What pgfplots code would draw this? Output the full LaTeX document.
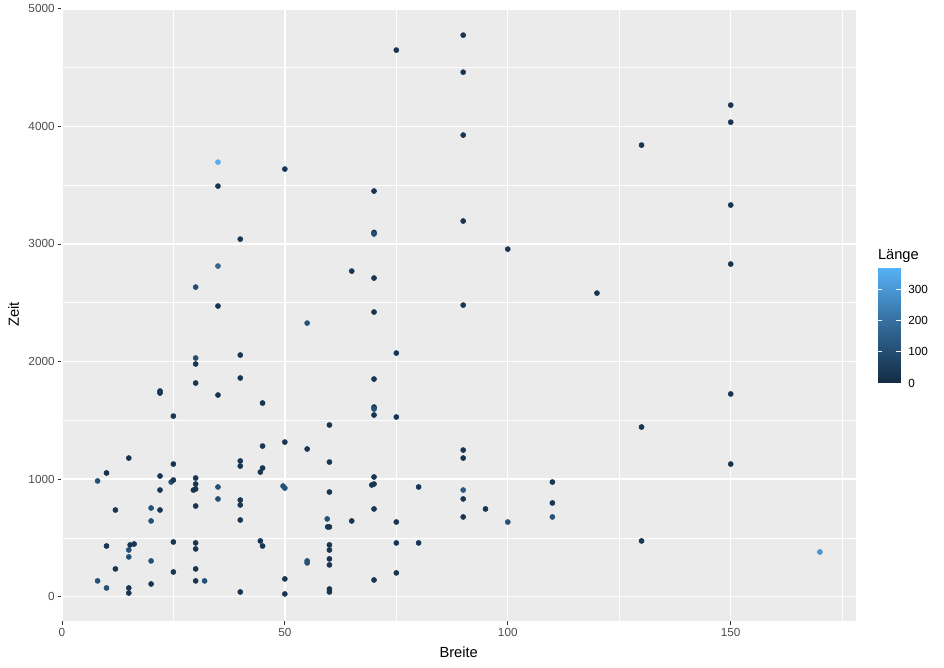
\documentclass[border=0pt]{standalone}
\usepackage{fontspec}
\setmainfont{Liberation Sans}
\usepackage{pgfplots}
\pgfplotsset{compat=1.18}
\usepackage{pgfplotstable}
\definecolor{panelbg}{HTML}{EBEBEB}
\definecolor{grey20}{HTML}{333333}
\definecolor{grey30}{HTML}{4D4D4D}
\pgfplotstableread{
x y c
25 1536 30
15 1179 25
25 1128 30
10 1052 20
22 1026 35
40 1154 30
40 1111 30
8 984 110
24.5 975 110
25 992 30
30 1009 30
30 958 30
29.5 907 30
30 916 25
22 907 30
35 933 110
35 831 110
40 822 30
40 780 30
12 737 30
20 754 110
22 737 30
30 771 30
20 644 110
40 652 30
10 431 30
15.3 440 30
16.2 448 30
15 397 110
15 338 110
25 465 30
30 457 30
30 406 30
20 304 110
12 236 30
25 210 30
30 236 30
8 134 110
10 74 110
15 74 30
15 31 30
20 108 30
30 134 30
32 134 110
40 40 30
45 1647 30
70 1613 30
70 1596 110
70 1545 30
75 1528 30
60 1460 30
45 1281 30
50 1315 30
55 1256 30
60 1145 30
45 1094 30
44.5 1060 30
70 1018 30
69.5 950 30
70 958 30
49.6 941 110
50 924 110
80 933 30
60 890 30
70 746 30
59.5 661 110
59.6 593 30
60 593 30
65 644 30
75 635 30
44.5 474 30
45 431 30
60 440 30
60 397 30
75 457 30
80 457 30
55 304 110
55 287 110
60 321 30
60 270 30
75 202 30
50 151 30
70 142 30
60 65 30
60 40 30
50 23 30
130 1443 30
150 1128 30
90 1247 30
90 1179 30
110 975 30
90 907 140
90 831 30
95 746 30
90 678 30
100 635 110
110 797 30
110 678 120
130 474 30
170 380 300
75 4649 30
35 3696 360
50 3637 30
35 3492 30
70 3450 30
70 3098 30
70 3085 100
40 3041 30
35 2812 170
65 2769 30
70 2710 30
30 2633 100
35 2472 30
70 2421 30
55 2327 120
75 2072 30
30 2030 100
30 1979 30
40 2055 30
30 1817 30
40 1860 30
70 1851 30
22 1749 30
22 1732 30
35 1715 30
90 4776 30
90 4461 30
150 4181 30
150 4036 30
90 3926 30
130 3841 30
150 3331 30
90 3195 30
100 2956 30
150 2829 30
120 2582 30
90 2480 30
150 1724 30
}\pts
\begin{document}
\begin{tikzpicture}
\path[use as bounding box] (0,0) rectangle (708pt,500.25pt);
\begin{axis}[
  at={(46.1pt,34.5pt)}, anchor=south west,
  scale only axis, width=595.9pt, height=459.75pt,
  xmin=-0.1, xmax=178.1, ymin=-207, ymax=5007,
  xtick={0,50,100,150}, ytick={0,1000,2000,3000,4000,5000},
  minor xtick={25,75,125,175}, minor ytick={500,1500,2500,3500,4500},
  grid=both,
  major grid style={white, line width=1.07pt},
  minor grid style={white, line width=0.53pt},
  axis background/.style={fill=panelbg},
  axis line style={draw=none},
  tick align=outside,
  tick pos=left,
  major tick length=2.75pt,
  minor tick length=0pt,
  major tick style={grey20, line width=0.53pt},
  scaled ticks=false,
  /pgf/number format/assume math mode=true,
  /pgf/number format/1000 sep={},
  xticklabel style={font=\fontsize{8.8}{10}\selectfont, text=grey30, inner sep=0pt, yshift=-2.2pt},
  yticklabel style={font=\fontsize{8.8}{10}\selectfont, text=grey30, inner sep=0pt, xshift=-2.2pt},
  xlabel={Breite},
  ylabel={Zeit},
  every axis x label/.style={at={([yshift=-27pt]axis description cs:0.5,0)}, anchor=base, font=\fontsize{11}{13}\selectfont, inner sep=0pt},
  every axis y label/.style={at={([xshift=-31.9pt]axis description cs:0,0.5)}, rotate=90, anchor=base, font=\fontsize{11}{13}\selectfont, inner sep=0pt},
  colormap={gg}{rgb255=(19,43,67) rgb255=(51,106,152) rgb255=(86,177,247)},
  point meta min=0, point meta max=367,
]
\addplot[scatter, only marks, mark=*, mark size=1.9pt, scatter src=explicit,
  scatter/use mapped color={draw=mapped color, fill=mapped color}]
  table[x=x, y=y, meta=c] {\pts};
\end{axis}
% colour bar legend (Länge)
\begin{axis}[
  at={(658.3pt,213pt)}, anchor=south west,
  scale only axis, width=17.25pt, height=86.25pt,
  view={0}{90},
  xmin=0, xmax=1, ymin=0, ymax=367,
  xtick=\empty,
  ytick={0,100,200,300},
  yticklabel pos=right,
  ytick pos=both,
  tick align=inside,
  major tick length=3.45pt,
  major tick style={white, line width=0.5pt},
  axis line style={draw=none},
  /pgf/number format/assume math mode=true,
  yticklabel style={font=\fontsize{8.8}{10}\selectfont, text=black, inner sep=0pt, xshift=5.5pt},
  title={Länge},
  every axis title/.style={at={(0,1)}, anchor=base west, yshift=6pt, inner sep=0pt, font=\fontsize{11}{13}\selectfont},
  colormap={gg}{rgb255=(19,43,67) rgb255=(51,106,152) rgb255=(86,177,247)},
  point meta min=0, point meta max=367,
]
\addplot3[surf, shader=interp, point meta=y] coordinates {
(0,0,0) (1,0,0)

(0,367,0) (1,367,0)
};
\end{axis}
\end{tikzpicture}
\end{document}
